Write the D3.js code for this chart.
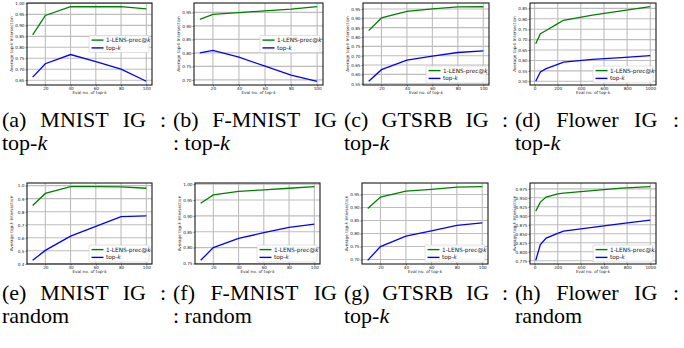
<!DOCTYPE html>
<html>
<head>
<meta charset="utf-8">
<script src="https://cdn.jsdelivr.net/npm/d3@7"></script>
<style>
body { margin: 0; background: #fff; }
svg { display: block; }
.cap { font-family: 'Liberation Serif', 'Times New Roman', serif; }
</style>
</head>
<body>
<div id="chart-area"></div>
<script>
// x values (eval no. of top-k)
var kSmall = [10, 20, 40, 60, 80, 100];
var kLarge = [10, 50, 100, 200, 250, 500, 750, 1000];

// series: green = 1-LENS-prec@k, blue = top-k
var mnistTopkLens   = [0.857, 0.945, 0.985, 0.985, 0.985, 0.975];
var mnistTopkBase   = [0.664, 0.725, 0.767, 0.735, 0.700, 0.645];
var fmnistTopkLens  = [0.924, 0.943, 0.949, 0.956, 0.962, 0.971];
var fmnistTopkBase  = [0.800, 0.809, 0.784, 0.751, 0.718, 0.695];
var gtsrbTopkLens   = [0.834, 0.902, 0.937, 0.950, 0.961, 0.962];
var gtsrbTopkBase   = [0.563, 0.625, 0.676, 0.698, 0.717, 0.726];
var flowerTopkLens  = [0.680, 0.728, 0.744, 0.777, 0.793, 0.818, 0.838, 0.858];
var flowerTopkBase  = [0.500, 0.545, 0.561, 0.581, 0.592, 0.605, 0.614, 0.623];
var mnistRandLens   = [0.847, 0.940, 0.992, 0.992, 0.990, 0.980];
var mnistRandBase   = [0.427, 0.503, 0.613, 0.687, 0.763, 0.768];
var fmnistRandLens  = [0.940, 0.966, 0.977, 0.982, 0.987, 0.992];
var fmnistRandBase  = [0.760, 0.800, 0.829, 0.847, 0.864, 0.874];
var gtsrbRandLens   = [0.896, 0.940, 0.963, 0.970, 0.978, 0.980];
var gtsrbRandBase   = [0.697, 0.750, 0.790, 0.810, 0.831, 0.841];
var flowerRandLens  = [0.913, 0.938, 0.952, 0.961, 0.963, 0.970, 0.977, 0.981];
var flowerRandBase  = [0.776, 0.820, 0.838, 0.851, 0.857, 0.868, 0.878, 0.888];

// tick labels
var xTicksSmall = [20, 40, 60, 80, 100];
var xTicksLarge = [0, 200, 400, 600, 800, 1000];
var yTicksA = [0.65, 0.70, 0.75, 0.80, 0.85, 0.90, 0.95, 1.00];
var yTicksB = [0.70, 0.75, 0.80, 0.85, 0.90, 0.95];
var yTicksC = [0.55, 0.60, 0.65, 0.70, 0.75, 0.80, 0.85, 0.90, 0.95];
var yTicksD = [0.50, 0.55, 0.60, 0.65, 0.70, 0.75, 0.80, 0.85];
var yTicksE = [0.4, 0.5, 0.6, 0.7, 0.8, 0.9, 1.0];
var yTicksF = [0.75, 0.80, 0.85, 0.90, 0.95, 1.00];
var yTicksG = [0.70, 0.75, 0.80, 0.85, 0.90, 0.95];
var yTicksH = [0.775, 0.800, 0.825, 0.850, 0.875, 0.900, 0.925, 0.950, 0.975];

var legendNames = ["1-LENS-prec@", "top-"];
var captionHead = ["(a) MNIST IG :", "(b) F-MNIST IG", "(c) GTSRB IG :", "(d) Flower IG :",
                   "(e) MNIST IG :", "(f) F-MNIST IG", "(g) GTSRB IG :", "(h) Flower IG :"];
var captionTail = ["top-k", ": top-k", "top-k", "top-k",
                   "random", ": random", "top-k", "random"];

var panels = [
	{ k: kSmall, lens: mnistTopkLens,  base: mnistTopkBase,  xt: xTicksSmall, yt: yTicksA, fmt: ".2f", leg: "right" },
	{ k: kSmall, lens: fmnistTopkLens, base: fmnistTopkBase, xt: xTicksSmall, yt: yTicksB, fmt: ".2f", leg: "right" },
	{ k: kSmall, lens: gtsrbTopkLens,  base: gtsrbTopkBase,  xt: xTicksSmall, yt: yTicksC, fmt: ".2f", leg: "lower" },
	{ k: kLarge, lens: flowerTopkLens, base: flowerTopkBase, xt: xTicksLarge, yt: yTicksD, fmt: ".2f", leg: "lower" },
	{ k: kSmall, lens: mnistRandLens,  base: mnistRandBase,  xt: xTicksSmall, yt: yTicksE, fmt: ".1f", leg: "lower" },
	{ k: kSmall, lens: fmnistRandLens, base: fmnistRandBase, xt: xTicksSmall, yt: yTicksF, fmt: ".2f", leg: "lower" },
	{ k: kSmall, lens: gtsrbRandLens,  base: gtsrbRandBase,  xt: xTicksSmall, yt: yTicksG, fmt: ".2f", leg: "lower" },
	{ k: kLarge, lens: flowerRandLens, base: flowerRandBase, xt: xTicksLarge, yt: yTicksH, fmt: ".3f", leg: "lower" }
];

//= plot boxes [left, top, right, bottom] in page pixels
var boxes = [
	[27, 3, 152, 85], [194, 3, 323, 85], [363, 3, 489, 85], [530, 3, 656, 85],
	[27, 183, 152, 264], [195, 183, 320, 264], [362, 183, 488, 264], [530, 183, 656, 264]
];

var svg = d3.select("#chart-area")
	.append("svg")
		.attr("width", 684)
		.attr("height", 348);

svg.append("rect").attr("width", 684).attr("height", 348).attr("fill", "#fff");

// pad a domain by 5% on each side, like matplotlib's default margins
function padded(ext) {
	var m = (ext[1] - ext[0]) * 0.05;
	return [ext[0] - m, ext[1] + m];
}

panels.forEach(function(p, i) {
	var b = boxes[i];
	var w = b[2] - b[0], h = b[3] - b[1];
	var g = svg.append("g").attr("transform", "translate(" + b[0] + "," + b[1] + ")");

	var x = d3.scaleLinear().domain(padded(d3.extent(p.k))).range([0, w]);
	var y = d3.scaleLinear()
		.domain(padded(d3.extent(p.lens.concat(p.base))))
		.range([h, 0]);

	// grid
	g.selectAll(".vgrid").data(p.xt).enter().append("line")
		.attr("x1", d => x(d)).attr("x2", d => x(d))
		.attr("y1", 0).attr("y2", h)
		.attr("stroke", "#bdbdbd").attr("stroke-width", 1.1);
	g.selectAll(".hgrid").data(p.yt.filter(d => y(d) >= 0 && y(d) <= h)).enter().append("line")
		.attr("x1", 0).attr("x2", w)
		.attr("y1", d => y(d)).attr("y2", d => y(d))
		.attr("stroke", "#bdbdbd").attr("stroke-width", 1.1);

	// axes
	var xAxis = g.append("g")
		.attr("transform", "translate(0," + h + ")")
		.call(d3.axisBottom(x).tickValues(p.xt).tickSize(1.5).tickPadding(1).tickFormat(d3.format("d")));
	var yAxis = g.append("g")
		.call(d3.axisLeft(y).tickValues(p.yt.filter(d => y(d) >= -0.5 && y(d) <= h + 0.5))
			.tickSize(1.5).tickPadding(1).tickFormat(d3.format(p.fmt)));
	[xAxis, yAxis].forEach(function(a) {
		a.select(".domain").remove();
		a.selectAll("text").attr("font-size", 4.2).attr("font-family", "DejaVu Sans").attr("fill", "#222");
		a.selectAll("line").attr("stroke", "#222").attr("stroke-width", 0.6);
	});

	// lines
	var line = d3.line().x((d, j) => x(p.k[j])).y(d => y(d));
	g.append("path").datum(p.lens).attr("d", line)
		.attr("fill", "none").attr("stroke", "#008000").attr("stroke-width", 1.3);
	g.append("path").datum(p.base).attr("d", line)
		.attr("fill", "none").attr("stroke", "#0000ff").attr("stroke-width", 1.3);

	// frame
	g.append("rect").attr("width", w).attr("height", h)
		.attr("fill", "none").attr("stroke", "#1a1a1a").attr("stroke-width", 1.1);

	// axis labels
	var xl = g.append("text")
		.attr("x", w / 2).attr("y", h + 9)
		.attr("text-anchor", "middle")
		.attr("font-size", 4.2).attr("font-family", "DejaVu Sans").attr("fill", "#222");
	xl.append("tspan").text("Eval no. of top-");
	xl.append("tspan").attr("font-style", "italic").text("k");

	var yl = g.append("text")
		.attr("transform", "rotate(-90)")
		.attr("x", -h / 2).attr("y", -14.5)
		.attr("text-anchor", "middle")
		.attr("font-size", 4.2).attr("font-family", "DejaVu Sans").attr("fill", "#222");
	yl.append("tspan").text("Average top-");
	yl.append("tspan").attr("font-style", "italic").text("k");
	yl.append("tspan").text(" Intersection");

	// legend
	var lw = 60, lh = 17;
	var lx = w - lw - 3;
	var ly = p.leg === "right" ? (h - lh) / 2 : h - lh - 2;
	var lg = g.append("g").attr("transform", "translate(" + lx + "," + ly + ")");
	lg.append("rect").attr("width", lw).attr("height", lh).attr("rx", 1)
		.attr("fill", "#fff").attr("fill-opacity", 0.85)
		.attr("stroke", "#ccc").attr("stroke-width", 0.6);
	["#008000", "#0000ff"].forEach(function(c, j) {
		var yy = 4.6 + j * 7.8;
		lg.append("line").attr("x1", 2.5).attr("x2", 14.5).attr("y1", yy).attr("y2", yy)
			.attr("stroke", c).attr("stroke-width", 1.4);
		var t = lg.append("text").attr("x", 17).attr("y", yy + 2)
			.attr("font-size", 5.8).attr("font-family", "DejaVu Sans").attr("fill", "#222");
		t.append("tspan").text(legendNames[j]);
		t.append("tspan").attr("font-style", "italic").text("k");
	});
});

// captions: first line justified across the column, second line left aligned
var capW = 164, capFont = 22;
captionHead.forEach(function(s, i) {
	var col = i % 4, row = Math.floor(i / 4);
	var x0 = 2 + col * 171;
	var base1 = row === 0 ? 127 : 300;
	var words = s.split(" ");
	var nodes = words.map(function(wd) {
		return svg.append("text")
			.attr("class", "cap")
			.attr("y", base1)
			.attr("font-size", capFont)
			.attr("fill", "#000")
			.text(wd);
	});
	var widths = nodes.map(n => n.node().getComputedTextLength());
	var gap = (capW - d3.sum(widths)) / (words.length - 1);
	var cx = x0;
	nodes.forEach(function(n, j) {
		n.attr("x", cx);
		cx += widths[j] + gap;
	});

	var tail = captionTail[i];
	var t2 = svg.append("text")
		.attr("class", "cap")
		.attr("x", x0).attr("y", base1 + 23)
		.attr("font-size", capFont)
		.attr("fill", "#000");
	if (tail.slice(-2) === "-k") {
		t2.append("tspan").text(tail.slice(0, -1));
		t2.append("tspan").attr("font-style", "italic").text("k");
	} else {
		t2.text(tail);
	}
});
</script>
</body>
</html>
